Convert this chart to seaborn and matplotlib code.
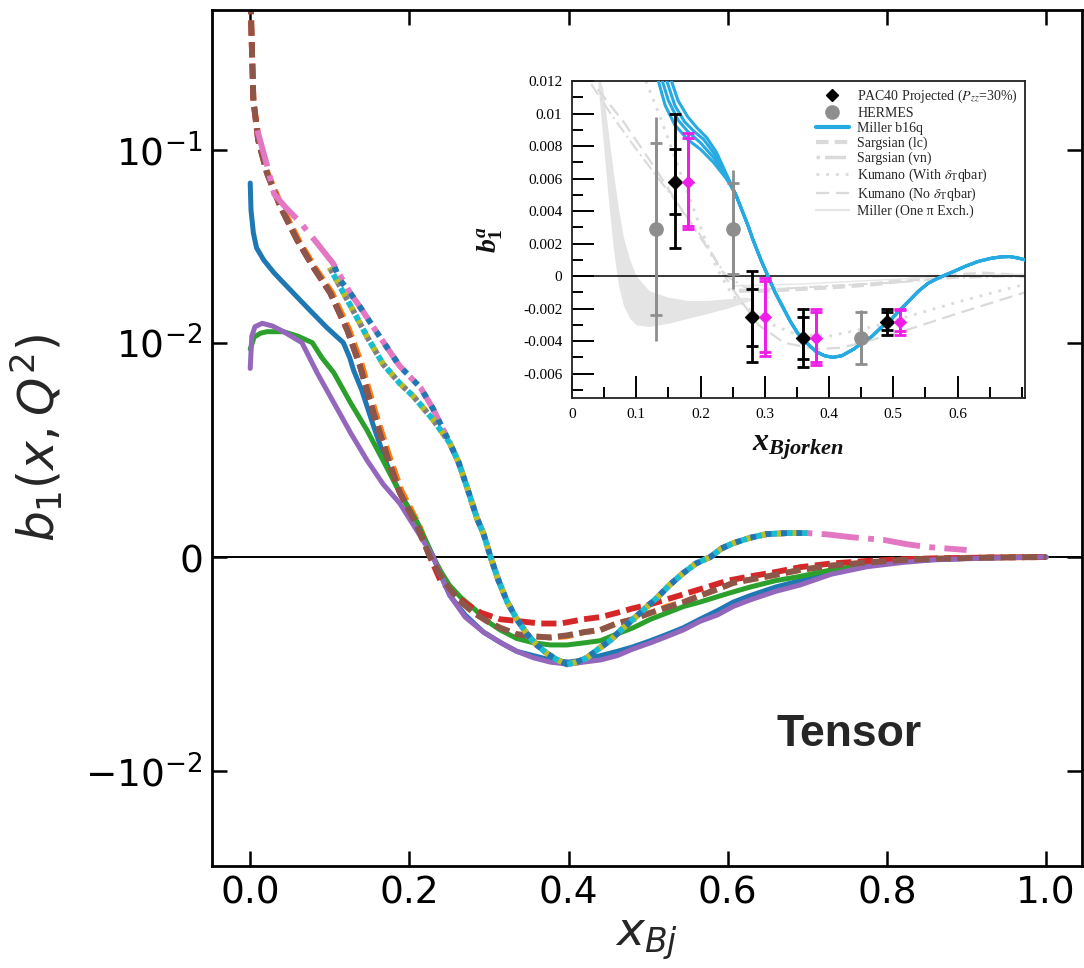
import numpy as np
import matplotlib
matplotlib.use("Agg")
import matplotlib.pyplot as plt
import seaborn as sns
from matplotlib.ticker import NullLocator, MultipleLocator
from matplotlib.font_manager import FontProperties
from matplotlib.lines import Line2D

# ---------------- main panel: tensor b1(x, Q^2) ----------------
x_blue = [0.0, 0.001, 0.004, 0.008, 0.017, 0.030, 0.042, 0.071, 0.096, 0.117, 0.125, 0.130, 0.140,
          0.155, 0.172, 0.188, 0.200, 0.210, 0.220, 0.230, 0.240, 0.251, 0.270, 0.293, 0.315, 0.335,
          0.356, 0.377, 0.400, 0.419, 0.440, 0.461, 0.480, 0.503, 0.524, 0.544, 0.565, 0.587, 0.607,
          0.628, 0.660, 0.691, 0.730, 0.775, 0.820, 0.858, 0.930, 1.0]
y_blue = [0.0672, 0.0486, 0.037, 0.031, 0.0268, 0.023, 0.0204, 0.0153, 0.0120, 0.0100, 0.0093,
          0.0087, 0.0078, 0.0061, 0.0043, 0.0030, 0.0022, 0.0016, 0.0008, 0.0, -0.0009, -0.0018,
          -0.0027, -0.0035, -0.0040, -0.0044, -0.0046, -0.0048, -0.0049, -0.0048, -0.0046, -0.0044,
          -0.0042, -0.0039, -0.0036, -0.0033, -0.0029, -0.0025, -0.0021, -0.0018, -0.0014, -0.0011,
          -0.0007, -0.0004, -0.0002, -0.00012, -0.00003, 0.0]

x_orange = [0.0, 0.001, 0.002, 0.004, 0.011, 0.022, 0.040, 0.061, 0.081, 0.103, 0.124, 0.140, 0.157,
            0.174, 0.190, 0.212, 0.228, 0.240, 0.251, 0.265, 0.281, 0.298, 0.314, 0.335, 0.356,
            0.377, 0.398, 0.420, 0.440, 0.460, 0.481, 0.503, 0.524, 0.545, 0.565, 0.587, 0.607,
            0.650, 0.691, 0.730, 0.775, 0.820, 0.858, 0.930, 1.0]
y_orange = [1.0, 0.5, 0.35, 0.18, 0.112, 0.0757, 0.0505, 0.034, 0.0247, 0.0181, 0.0118, 0.0090,
            0.0068, 0.0048, 0.0031, 0.0015, 0.0, -0.0009, -0.0015, -0.0021, -0.0026, -0.0030,
            -0.0033, -0.0036, -0.0037, -0.00375, -0.0037, -0.0035, -0.0034, -0.0031, -0.0029,
            -0.0026, -0.0023, -0.0021, -0.0018, -0.0015, -0.0012, -0.0009, -0.0006, -0.0004,
            -0.00025, -0.00014, -0.00008, -0.00002, 0.0]

x_green = [0.0, 0.005, 0.013, 0.021, 0.042, 0.060, 0.078, 0.090, 0.105, 0.126, 0.147, 0.167, 0.188,
           0.210, 0.230, 0.240, 0.250, 0.265, 0.281, 0.298, 0.314, 0.335, 0.356, 0.377, 0.398, 0.420,
           0.440, 0.460, 0.481, 0.503, 0.524, 0.545, 0.565, 0.600, 0.628, 0.660, 0.691, 0.730, 0.775,
           0.820, 0.858, 0.930, 1.0]
y_green = [0.0097, 0.0107, 0.0112, 0.0114, 0.0114, 0.0108, 0.0100, 0.0093, 0.0086, 0.0072, 0.0059,
           0.0045, 0.0030, 0.0016, 0.0, -0.0007, -0.0013, -0.0019, -0.0024, -0.0030, -0.0034,
           -0.0038, -0.0040, -0.0041, -0.0041, -0.0040, -0.0039, -0.0036, -0.0033, -0.0029, -0.0026,
           -0.0023, -0.0021, -0.0017, -0.0014, -0.0011, -0.0009, -0.0006, -0.00035, -0.0002,
           -0.0001, -0.00003, 0.0]

x_red = [0.0, 0.001, 0.002, 0.004, 0.010, 0.021, 0.038, 0.059, 0.079, 0.1005, 0.122, 0.138, 0.155,
         0.172, 0.188, 0.210, 0.226, 0.239, 0.255, 0.272, 0.290, 0.314, 0.340, 0.364, 0.390, 0.419,
         0.440, 0.461, 0.480, 0.503, 0.530, 0.565, 0.600, 0.628, 0.660, 0.691, 0.730, 0.775, 0.820,
         0.858, 0.930, 1.0]
y_red = [1.0, 0.5, 0.35, 0.18, 0.112, 0.0757, 0.0505, 0.034, 0.0247, 0.0181, 0.0116, 0.0089, 0.0067,
         0.0047, 0.0030, 0.0014, 0.0, -0.0011, -0.0017, -0.0022, -0.0026, -0.0029, -0.0030, -0.0031,
         -0.0031, -0.0029, -0.0028, -0.0026, -0.0024, -0.0022, -0.0019, -0.0015, -0.0011, -0.0009,
         -0.0007, -0.00047, -0.0003, -0.00018, -0.0001, -0.00006, -0.00002, 0.0]

x_purple = [0.0, 0.002, 0.006, 0.015, 0.028, 0.042, 0.065, 0.084, 0.105, 0.126, 0.147, 0.167, 0.188,
            0.210, 0.230, 0.240, 0.251, 0.270, 0.293, 0.315, 0.335, 0.356, 0.377, 0.400, 0.419,
            0.440, 0.461, 0.480, 0.503, 0.524, 0.544, 0.565, 0.587, 0.607, 0.628, 0.660, 0.691,
            0.730, 0.775, 0.820, 0.858, 0.930, 1.0]
y_purple = [0.0088, 0.0108, 0.0121, 0.0126, 0.0122, 0.0114, 0.0100, 0.0086, 0.0072, 0.0058, 0.0045,
            0.0034, 0.0025, 0.0012, 0.0, -0.0009, -0.0018, -0.0028, -0.0035, -0.0040, -0.0044,
            -0.0047, -0.0049, -0.0050, -0.0049, -0.0048, -0.0046, -0.0043, -0.0040, -0.0037,
            -0.0034, -0.0030, -0.0027, -0.0023, -0.0020, -0.0016, -0.0013, -0.0008, -0.00045,
            -0.00025, -0.00013, -0.00004, 0.0]

x_brown = [0.0, 0.001, 0.002, 0.004, 0.010, 0.021, 0.038, 0.059, 0.079, 0.1005, 0.122, 0.138, 0.155,
           0.172, 0.188, 0.210, 0.226, 0.240, 0.251, 0.265, 0.281, 0.298, 0.314, 0.335, 0.356,
           0.377, 0.398, 0.420, 0.440, 0.460, 0.481, 0.503, 0.524, 0.545, 0.565, 0.587, 0.607,
           0.650, 0.691, 0.730, 0.775, 0.820, 0.858, 0.930, 1.0]
y_brown = [1.0, 0.5, 0.35, 0.18, 0.112, 0.0757, 0.0505, 0.034, 0.0247, 0.0181, 0.0116, 0.0089,
           0.0067, 0.0047, 0.0030, 0.0014, 0.0, -0.0009, -0.0015, -0.0021, -0.0026, -0.0030,
           -0.0033, -0.0036, -0.0037, -0.00375, -0.00365, -0.0035, -0.0034, -0.0031, -0.0029,
           -0.0026, -0.00235, -0.0021, -0.0018, -0.0015, -0.0012, -0.0009, -0.0006, -0.0004,
           -0.00025, -0.00014, -0.00008, -0.00002, 0.0]

x_pink = [0.009, 0.021, 0.030, 0.045, 0.063, 0.084, 0.104, 0.126, 0.138, 0.163, 0.188, 0.214, 0.230,
          0.251, 0.262, 0.272, 0.285, 0.293, 0.302, 0.312, 0.323, 0.335, 0.348, 0.360, 0.373, 0.386,
          0.398, 0.410, 0.423, 0.437, 0.452, 0.466, 0.481, 0.496, 0.511, 0.527, 0.544, 0.560, 0.578,
          0.592, 0.607, 0.628, 0.649, 0.675, 0.700, 0.727, 0.754, 0.776, 0.796, 0.825, 0.850,
          0.875, 0.900]
y_pink = [0.126, 0.0835, 0.059, 0.050, 0.042, 0.0328, 0.0258, 0.018, 0.0153, 0.0107, 0.0089, 0.0079,
          0.0069, 0.0053, 0.0044, 0.0033, 0.0018, 0.0011, 0.0, -0.0011, -0.0021, -0.0029, -0.0036,
          -0.0041, -0.0045, -0.0048, -0.0050, -0.0049, -0.0047, -0.0043, -0.0039, -0.0034, -0.0029,
          -0.0024, -0.0019, -0.0013, -0.00075, -0.0003, 0.0, 0.0004, 0.00065, 0.0009, 0.00107,
          0.00112, 0.00112, 0.00105, 0.00093, 0.00086, 0.0008, 0.0006, 0.00047, 0.0004, 0.00033]

# dotted curves: an outer track (shared with the dash-dot curve) and an inner track
x_dot_outer = [0.104, 0.113, 0.126, 0.138, 0.163, 0.188, 0.214, 0.230, 0.251, 0.262, 0.272, 0.285,
               0.293, 0.302, 0.312, 0.323, 0.335, 0.348, 0.360, 0.373, 0.386, 0.398, 0.410, 0.423,
               0.437, 0.452, 0.466, 0.481, 0.496, 0.511, 0.527, 0.544, 0.560, 0.578, 0.592, 0.607,
               0.628, 0.649, 0.675, 0.700]
y_dot_outer = [0.0258, 0.0211, 0.018, 0.0153, 0.0107, 0.0089, 0.0079, 0.0069, 0.0053, 0.0044,
               0.0033, 0.0018, 0.0011, 0.0, -0.0011, -0.0021, -0.0029, -0.0036, -0.0041, -0.0045,
               -0.0048, -0.0050, -0.0049, -0.0047, -0.0043, -0.0039, -0.0034, -0.0029, -0.0024,
               -0.0019, -0.0013, -0.00075, -0.0003, 0.0, 0.0004, 0.00065, 0.0009, 0.00107, 0.00112,
               0.00112]
x_dot_inner = [0.100, 0.113, 0.130, 0.147, 0.167, 0.188, 0.205, 0.230, 0.251, 0.262, 0.272, 0.285,
               0.293, 0.302, 0.312, 0.323, 0.335, 0.348, 0.360, 0.373, 0.386, 0.398, 0.410, 0.423,
               0.437, 0.452, 0.466, 0.481, 0.496, 0.511, 0.527, 0.544, 0.560, 0.578, 0.592, 0.607,
               0.628, 0.649, 0.675, 0.700]
y_dot_inner = [0.0245, 0.0195, 0.0145, 0.0107, 0.0090, 0.0081, 0.0075, 0.0064, 0.0053, 0.0044,
               0.0033, 0.0018, 0.0011, 0.0, -0.0011, -0.0021, -0.0029, -0.0036, -0.0041, -0.0045,
               -0.0048, -0.0050, -0.0049, -0.0047, -0.0043, -0.0039, -0.0034, -0.0029, -0.0024,
               -0.0019, -0.0013, -0.00075, -0.0003, 0.0, 0.0004, 0.00065, 0.0009, 0.00107, 0.00112,
               0.00112]

main_xticks = [0.0, 0.2, 0.4, 0.6, 0.8, 1.0]
main_yticks = [-0.01, 0.0, 0.01, 0.1]

# ---------------- inset: b1 comparison with data ----------------
pac_x = [0.16, 0.28, 0.36, 0.49]
pac_y = [0.0058, -0.0025, -0.0038, -0.0028]
pac_in_lo = [0.0038, -0.0043, -0.0051, -0.0033]
pac_in_hi = [0.0078, -0.0008, -0.0025, -0.0022]
pac_out_lo = [0.0017, -0.0053, -0.0056, -0.0036]
pac_out_hi = [0.0100, 0.0003, -0.0020, -0.0020]

mag_x = [0.18, 0.30, 0.38, 0.51]
mag_y = [0.0058, -0.0025, -0.0038, -0.0028]
mag_in_lo = [0.0031, -0.0047, -0.0053, -0.0034]
mag_in_hi = [0.0085, -0.0003, -0.0022, -0.0021]
mag_out_lo = [0.0029, -0.0049, -0.0055, -0.0036]
mag_out_hi = [0.0088, -0.0001, -0.0020, -0.0020]

hermes_x = [0.13, 0.25, 0.45]
hermes_y = [0.0029, 0.0029, -0.0038]
hermes_in_lo = [-0.0024, 0.0001, -0.0054]
hermes_in_hi = [0.0082, 0.0057, -0.0022]
hermes_out_lo = [-0.0040, -0.0008, -0.0054]
hermes_out_hi = [0.0098, 0.0065, -0.0021]

miller_heads_x = [[0.133, 0.145, 0.160, 0.180, 0.200, 0.220, 0.240, 0.248],
                  [0.139, 0.150, 0.165, 0.180, 0.200, 0.220, 0.240, 0.248],
                  [0.146, 0.160, 0.175, 0.190, 0.205, 0.220, 0.240, 0.248],
                  [0.153, 0.165, 0.180, 0.195, 0.210, 0.225, 0.240, 0.248]]
miller_heads_y = [[0.0122, 0.0105, 0.0093, 0.0084, 0.0078, 0.0070, 0.0060, 0.0055],
                  [0.0122, 0.0108, 0.0096, 0.0089, 0.0082, 0.0073, 0.0061, 0.0055],
                  [0.0122, 0.0105, 0.0095, 0.0089, 0.0084, 0.0076, 0.0062, 0.0056],
                  [0.0122, 0.0108, 0.0098, 0.0091, 0.0085, 0.0076, 0.0063, 0.0056]]
miller_tail_x = [0.255, 0.265, 0.274, 0.282, 0.295, 0.305, 0.316, 0.328, 0.340, 0.351, 0.365, 0.380,
                 0.393, 0.406, 0.420, 0.438, 0.452, 0.467, 0.480, 0.496, 0.510, 0.525, 0.540, 0.554,
                 0.566, 0.577, 0.595, 0.612, 0.632, 0.653, 0.668, 0.681, 0.693, 0.705]
miller_tail_y = [0.0050, 0.0040, 0.0031, 0.0022, 0.0009, 0.0, -0.0010, -0.0019, -0.0028, -0.0035,
                 -0.0041, -0.00465, -0.0049, -0.0050, -0.0049, -0.0045, -0.0041, -0.0037, -0.0032,
                 -0.0027, -0.0021, -0.0015, -0.0009, -0.00045, -0.0002, 0.0, 0.0003, 0.0006, 0.0009,
                 0.0011, 0.00118, 0.0012, 0.00112, 0.0010]

band_x = [0.040, 0.048, 0.056, 0.064, 0.072, 0.080, 0.090, 0.100, 0.120, 0.150, 0.180, 0.210, 0.240,
          0.270, 0.285]
band_lo = [0.0120, 0.0085, 0.0050, 0.0018, -0.0005, -0.0018, -0.0026, -0.0030, -0.0031, -0.0029,
           -0.0026, -0.0023, -0.0020, -0.0016, -0.0014]
band_hi = [0.0125, 0.0115, 0.0090, 0.0065, 0.0042, 0.0024, 0.0010, 0.0000, -0.0009, -0.0013,
           -0.0015, -0.0015, -0.0014, -0.0013, -0.0014]

sarg_lc_x = [0.26, 0.30, 0.35, 0.40, 0.47, 0.53, 0.58, 0.64, 0.705]
sarg_lc_y = [-0.0009, -0.0009, -0.0008, -0.0007, -0.0005, -0.0002, 0.0, 0.00015, 0.0]
sarg_vn_x = [0.03, 0.06, 0.10, 0.15, 0.20, 0.24, 0.27, 0.32, 0.40, 0.50, 0.60, 0.705]
sarg_vn_y = [0.0118, 0.0100, 0.0078, 0.0052, 0.0025, 0.0000, -0.0007, -0.0008, -0.0006, -0.0004,
             -0.0001, 0.0]
kum_with_x = [0.115, 0.14, 0.17, 0.20, 0.225, 0.25, 0.30, 0.35, 0.40, 0.47, 0.53, 0.60, 0.705]
kum_with_y = [0.0120, 0.0095, 0.0062, 0.0030, 0.0005, -0.0012, -0.0028, -0.0036, -0.0037, -0.0031,
              -0.0024, -0.0016, -0.0005]
kum_no_x = [0.04, 0.08, 0.13, 0.18, 0.22, 0.25, 0.29, 0.33, 0.38, 0.42, 0.47, 0.53, 0.60, 0.705]
kum_no_y = [0.0115, 0.0095, 0.0066, 0.0035, 0.0012, -0.0008, -0.0030, -0.0041, -0.0045, -0.0044,
            -0.0039, -0.0032, -0.0023, -0.0010]
ope_x = [0.25, 0.35, 0.45, 0.55, 0.65, 0.705]
ope_y = [-0.0006, -0.0005, -0.0003, -0.0001, 0.0001, 0.0001]

inset_xticks = [0.0, 0.1, 0.2, 0.3, 0.4, 0.5, 0.6]
inset_xlabels = ["0", "0.1", "0.2", "0.3", "0.4", "0.5", "0.6"]
inset_yticks = [-0.006, -0.004, -0.002, 0.0, 0.002, 0.004, 0.006, 0.008, 0.010, 0.012]
inset_ylabels = ["-0.006", "-0.004", "-0.002", "0", "0.002", "0.004", "0.006", "0.008", "0.01",
                 "0.012"]
legend_labels = ["PAC40 Projected ($P_{zz}$=30%)", "HERMES", "Miller b16q", "Sargsian (lc)",
                 "Sargsian (vn)", r"Kumano (With $\delta_{\rm T}$qbar)",
                 r"Kumano (No $\delta_{\rm T}$qbar)", "Miller (One π Exch.)"]

# ---------------- styling ----------------
sns.set_theme(style="ticks")
plt.rcParams["font.family"] = ["DejaVu Sans"]
plt.rcParams["mathtext.fontset"] = "dejavusans"
plt.rcParams["mathtext.it"] = "Liberation Serif:italic:bold"
plt.rcParams["mathtext.rm"] = "Liberation Serif:bold"
plt.rcParams["mathtext.bf"] = "Liberation Serif:bold"

pal = sns.color_palette("tab10")
W, H = 1084, 968
fig = plt.figure(figsize=(W / 100, H / 100), dpi=100)
fig.patch.set_facecolor("white")

ax = fig.add_axes([212 / W, 1 - 865.7 / H, (1082 - 212) / W, (865.7 - 10) / H])
ax.set_facecolor("white")
ax.axhline(0, color="black", lw=1.4, zorder=1)

DASH = (0, (2.6, 1.1))
series = [
    (x_blue, y_blue, pal[0], "-", 3.6),
    (x_orange, y_orange, pal[1], DASH, 4.2),
    (x_green, y_green, pal[2], "-", 3.6),
    (x_red, y_red, pal[3], DASH, 4.2),
    (x_purple, y_purple, pal[4], "-", 3.6),
    (x_brown, y_brown, pal[5], DASH, 4.2),
    (x_pink, y_pink, pal[6], "-.", 4.2),
    (x_dot_inner, y_dot_inner, pal[7], (0.0, (1, 1.65)), 4.2),
    (x_dot_inner, y_dot_inner, pal[8], (0.66, (1, 1.65)), 4.2),
    (x_dot_inner, y_dot_inner, pal[9], (1.32, (1, 1.65)), 4.2),
    (x_dot_outer, y_dot_outer, pal[0], (1.98, (1, 1.65)), 4.2),
]
for xs, ys, col, ls, lw in series:
    sns.lineplot(x=xs, y=ys, ax=ax, color=col, linestyle=ls, linewidth=lw,
                 estimator=None, sort=False, errorbar=None, zorder=2)

ax.set_yscale("symlog", linthresh=0.01, linscale=1)
ax.set_xlim(-0.048, 1.045)
ax.set_ylim(-0.0308, 0.53)
ax.set_xticks(main_xticks)
ax.set_yticks(main_yticks)
ax.yaxis.set_minor_locator(NullLocator())
ax.xaxis.set_minor_locator(NullLocator())
ax.tick_params(which="major", direction="in", length=11, width=1.8, labelsize=27,
               top=True, right=True, pad=7, colors="black")
for s in ax.spines.values():
    s.set_linewidth(2.0)
    s.set_color("black")

ax.set_xlabel(r"$x_{Bj}$", fontsize=34)
ax.set_ylabel(r"$b_1(x,Q^2)$", fontsize=35)
ax.xaxis.set_label_coords(0.5, -0.060)
ax.yaxis.set_label_coords(-0.169, 0.5)
ax.text(0.649, 0.153, "Tensor", transform=ax.transAxes, ha="left", va="center",
        fontsize=32, fontweight="bold", family="Liberation Sans")

# ---------------- inset ----------------
ins = fig.add_axes([572 / W, 1 - 398 / H, 453 / W, 317 / H])
ins.set_facecolor("white")
ins.set_xlim(0, 0.705)
ins.set_ylim(-0.0075, 0.012)

lite = "#dadada"
ins.fill_between(band_x, band_lo, band_hi, color="#e4e4e4", lw=0, zorder=1)
sns.lineplot(x=sarg_lc_x, y=sarg_lc_y, ax=ins, color=lite, lw=3.0, linestyle=(0, (3, 1.5)),
             estimator=None, sort=False, errorbar=None, zorder=1)
sns.lineplot(x=sarg_vn_x, y=sarg_vn_y, ax=ins, color=lite, lw=1.5, linestyle=(0, (6, 2, 1, 2)),
             estimator=None, sort=False, errorbar=None, zorder=1)
sns.lineplot(x=kum_with_x, y=kum_with_y, ax=ins, color=lite, lw=2.0, linestyle=(0, (1, 2.5)),
             estimator=None, sort=False, errorbar=None, zorder=1)
sns.lineplot(x=kum_no_x, y=kum_no_y, ax=ins, color=lite, lw=1.6, linestyle=(0, (6, 3)),
             estimator=None, sort=False, errorbar=None, zorder=1)
sns.lineplot(x=ope_x, y=ope_y, ax=ins, color="#e6e6e6", lw=1.0,
             estimator=None, sort=False, errorbar=None, zorder=1)
ins.axhline(0, color="black", lw=1.1, zorder=2)

miller_col = "#27aae1"
for hx, hy in zip(miller_heads_x, miller_heads_y):
    sns.lineplot(x=hx + miller_tail_x, y=hy + miller_tail_y, ax=ins, color=miller_col, lw=2.2,
                 estimator=None, sort=False, errorbar=None, zorder=3)


def bars(xs, ys, lo, hi, color, lw, capsize):
    err = [np.subtract(ys, lo), np.subtract(hi, ys)]
    ins.errorbar(xs, ys, yerr=err, fmt="none", ecolor=color, elinewidth=lw,
                 capsize=capsize, capthick=lw, zorder=4)


hermes_col = "#8e8e8e"
ins.errorbar(hermes_x, hermes_y,
             yerr=[np.subtract(hermes_y, hermes_out_lo), np.subtract(hermes_out_hi, hermes_y)],
             fmt="none", ecolor=hermes_col, elinewidth=2.0, capsize=0, zorder=4)
bars(hermes_x, hermes_y, hermes_in_lo, hermes_in_hi, hermes_col, 2.0, 4)
bars(pac_x, pac_y, pac_out_lo, pac_out_hi, "black", 2.0, 4)
bars(pac_x, pac_y, pac_in_lo, pac_in_hi, "black", 2.0, 4)
mag_col = "#ee1ee8"
bars(mag_x, mag_y, mag_out_lo, mag_out_hi, mag_col, 2.0, 4)
bars(mag_x, mag_y, mag_in_lo, mag_in_hi, mag_col, 2.0, 4)

sns.scatterplot(x=hermes_x, y=hermes_y, ax=ins, marker="o", s=95, color=hermes_col,
                edgecolor=hermes_col, zorder=5)
sns.scatterplot(x=pac_x, y=pac_y, ax=ins, marker="D", s=55, color="black",
                edgecolor="black", zorder=5)
sns.scatterplot(x=mag_x, y=mag_y, ax=ins, marker="D", s=40, color=mag_col,
                edgecolor=mag_col, zorder=5)

ins.set_xticks(inset_xticks, inset_xlabels, fontfamily="Liberation Serif", fontsize=11,
               color="#222222")
ins.set_yticks(inset_yticks, inset_ylabels, fontfamily="Liberation Serif", fontsize=11,
               color="#222222")
ins.xaxis.set_minor_locator(MultipleLocator(0.05))
ins.yaxis.set_minor_locator(MultipleLocator(0.001))
ins.tick_params(which="major", direction="in", length=16, width=1.4, pad=7,
                top=False, right=False, colors="black")
ins.tick_params(which="minor", direction="in", length=8, width=1.4,
                top=False, right=False, colors="black")
for s in ins.spines.values():
    s.set_linewidth(1.3)
    s.set_color("#222222")

ins.text(0.499, -0.152, r"$x_{Bjorken}$", transform=ins.transAxes, ha="center", va="center",
         fontsize=23, math_fontfamily="custom", color="#111111")
ins.text(-0.181, 0.50, r"$b_{\mathit{1}}^{a}$", transform=ins.transAxes, ha="center",
         va="center", rotation=90, fontsize=20, math_fontfamily="custom", color="#111111")

handles = [
    Line2D([], [], marker="D", color="black", ls="none", ms=6.5),
    Line2D([], [], marker="o", color=hermes_col, ls="none", ms=9.5),
    Line2D([], [], color=miller_col, lw=3.0),
    Line2D([], [], color=lite, lw=3.0, ls=(0, (3, 1.5))),
    Line2D([], [], color=lite, lw=2.5, ls=(0, (1, 1.5, 6, 1.5))),
    Line2D([], [], color=lite, lw=2.0, ls=(0, (1, 2.5))),
    Line2D([], [], color=lite, lw=1.6, ls=(0, (6, 3))),
    Line2D([], [], color="#e6e6e6", lw=1.6),
]
leg_font = FontProperties(family="Liberation Serif", size=10, math_fontfamily="stix")
ins.legend(handles, legend_labels, loc="upper right", bbox_to_anchor=(1.0, 1.0),
           frameon=False, prop=leg_font, handlelength=2.4, handletextpad=0.6,
           labelspacing=0.12, borderaxespad=0.2, borderpad=0.3)

fig.savefig("out.png", dpi=100, facecolor="white")
